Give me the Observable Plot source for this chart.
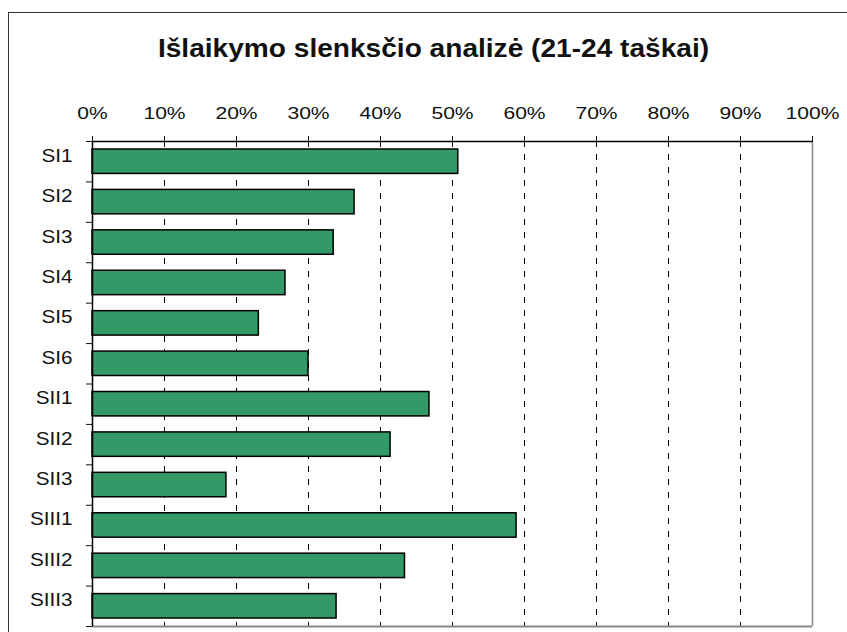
<!DOCTYPE html>
<html>
<head>
<meta charset="utf-8">
<script src="https://cdn.jsdelivr.net/npm/d3@7"></script>
<script src="https://cdn.jsdelivr.net/npm/@observablehq/plot@0.6"></script>
<style>
  html, body { margin: 0; padding: 0; background: #fff; }
  #wrap { position: relative; width: 847px; height: 632px; overflow: hidden; background: #fff; font-family: "Liberation Sans", Arial, sans-serif; }
  #frame { position: absolute; left: 8px; top: 12px; width: 850px; height: 700px; border: 1.5px solid #333; box-sizing: border-box; }
  #title { position: absolute; left: 0; width: 867px; top: 35px; text-align: center; font-size: 26.5px; line-height: 26px; font-weight: bold; color: #111; transform: scaleX(1.06); transform-origin: 433px 0; }
  #chart { position: absolute; left: 0; top: 0; }
</style>
</head>
<body>
<div id="wrap">
  <div id="frame"></div>
  <div id="chart"></div>
  <div id="title">Išlaikymo slenksčio analizė (21-24 taškai)</div>
</div>
<script>
const categories = ["SI1", "SI2", "SI3", "SI4", "SI5", "SI6", "SII1", "SII2", "SII3", "SIII1", "SIII2", "SIII3"];
const values = [50.8, 36.4, 33.5, 26.8, 23.1, 30.0, 46.8, 41.4, 18.6, 58.9, 43.4, 33.9];
const xTicks = [0, 10, 20, 30, 40, 50, 60, 70, 80, 90, 100];
const gridTicks = [10, 20, 30, 40, 50, 60, 70, 80, 90];

const data = categories.map((c, i) => ({ category: c, value: values[i], index: i }));
const boundaries = d3.range(0, categories.length + 1);
const centers = categories.map((c, i) => i + 0.5);

const plot = Plot.plot({
  width: 847,
  height: 632,
  marginTop: 141,
  marginLeft: 92,
  marginRight: 35,
  marginBottom: 6,
  style: { fontFamily: "'Liberation Sans', Arial, sans-serif", color: "#111", background: "transparent", overflow: "visible" },
  x: { domain: [0, 100], axis: null },
  y: { domain: [0, categories.length], reverse: true, axis: null },
  marks: [
    Plot.ruleX(gridTicks, { stroke: "#000", strokeWidth: 1, strokeDasharray: "6,7" }),
    Plot.rectX(data, {
      x1: () => 0,
      x2: "value",
      y1: "index",
      y2: d => d.index + 1,
      insetTop: 8,
      insetBottom: 8,
      fill: "#339966",
      stroke: "#000",
      strokeWidth: 1.5
    }),
    Plot.ruleX([100], { stroke: "#888", strokeWidth: 1.5 }),
    Plot.ruleY([categories.length], { stroke: "#888", strokeWidth: 2 }),
    Plot.ruleY([0], { stroke: "#000", strokeWidth: 1.5 }),
    Plot.ruleX([0], { stroke: "#000", strokeWidth: 1.5 }),
    Plot.axisX({
      anchor: "top",
      ticks: xTicks,
      tickFormat: d => d + "%",
      tickSize: 6,
      tickPadding: 17,
      fontSize: 17,
      label: null
    }),
    Plot.axisY({
      anchor: "left",
      ticks: boundaries,
      tickFormat: () => "",
      tickSize: 6,
      label: null
    }),
    Plot.axisY({
      anchor: "left",
      ticks: centers,
      tickFormat: d => categories[Math.floor(d)],
      tickSize: 0,
      tickPadding: 20,
      fontSize: 18.5,
      label: null
    })
  ]
});

document.getElementById("chart").appendChild(plot);

// Horizontally stretch the axis labels to match the reference's wide glyphs
function stretch(selector, sx) {
  plot.querySelectorAll(selector).forEach(t => {
    let tr = t.getAttribute("transform") || "";
    if (t.hasAttribute("x") || t.hasAttribute("y")) {
      const x = +t.getAttribute("x") || 0, y = +t.getAttribute("y") || 0;
      t.removeAttribute("x"); t.removeAttribute("y");
      tr = tr + ` translate(${x},${y})`;
    }
    t.setAttribute("transform", tr + ` scale(${sx},1)`);
  });
}
stretch("g[aria-label='x-axis tick label'] text", 1.24);
stretch("g[aria-label='y-axis tick label'] text", 1.12);
</script>
</body>
</html>
